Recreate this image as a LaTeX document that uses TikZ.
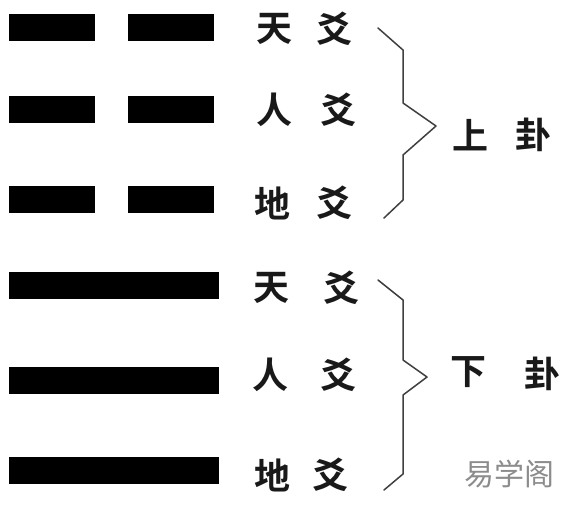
\documentclass[tikz,border=0pt]{standalone}
\usepackage{fontspec}
\newfontfamily\cjk{Noto Sans CJK SC}
\newfontfamily\cjkb{Noto Sans CJK SC Bold}
\begin{document}
\begin{tikzpicture}[x=1pt,y=-1pt,
  bar/.style={fill=black,draw=none,inner sep=0pt,minimum height=27pt,anchor=west},
  half/.style={bar,minimum width=86pt},
  full/.style={bar,minimum width=210pt},
  lbl/.style={font=\cjkb\fontsize{36}{36}\selectfont,inner sep=0pt,text=black!90},
  brace/.style={draw=black!75,line width=1.5pt,line join=round,line cap=round},
  wm/.style={font=\cjk\fontsize{30}{30}\selectfont,text=black!45,inner sep=0pt}]
\useasboundingbox (0,0) rectangle (580,522);
\fill[white] (0,0) rectangle (580,522);
% upper trigram (broken lines)
\node[half] (b1l) at (9,27) {};
\node[half] (b1r) at (128,27) {};
\node[half] (b2l) at (9,109) {};
\node[half] (b2r) at (128,109) {};
\node[half] (b3l) at (9,199) {};
\node[half] (b3r) at (128,199) {};
% lower trigram (solid lines)
\node[full] (b4) at (9,285) {};
\node[full] (b5) at (9,380) {};
\node[full] (b6) at (9,470) {};
% labels
\node[lbl] (t1) at (274,29) {天};
\node[lbl] (y1) at (334,29) {爻};
\node[lbl] (t2) at (274,110) {人};
\node[lbl] (y2) at (338,110) {爻};
\node[lbl] (t3) at (272,203) {地};
\node[lbl] (y3) at (334,203) {爻};
\node[lbl] (t4) at (271,288) {天};
\node[lbl] (y4) at (341,288) {爻};
\node[lbl] (t5) at (270,375) {人};
\node[lbl] (y5) at (338,375) {爻};
\node[lbl] (t6) at (272,475) {地};
\node[lbl] (y6) at (330,475) {爻};
\node[lbl] (up1) at (470,135) {上};
\node[lbl] (up2) at (533,135) {卦};
\node[lbl] (dn1) at (468,372) {下};
\node[lbl] (dn2) at (542,374) {卦};
% braces
\coordinate (ua) at (378,28);
\coordinate (ub) at (436,126);
\coordinate (uc) at (384,218);
\draw[brace] (ua) -- (403,50) -- (403,103) -- (ub) -- (403,155) -- (403,200) -- (uc);
\coordinate (la) at (378,280);
\coordinate (lb) at (427,377);
\coordinate (lc) at (384,490);
\draw[brace] (la) -- (403,300) -- (403,360) -- (lb) -- (403,395) -- (403,474) -- (lc);
% watermark
\node[wm] (wm) at (509,474) {易学阁};
\end{tikzpicture}
\end{document}
